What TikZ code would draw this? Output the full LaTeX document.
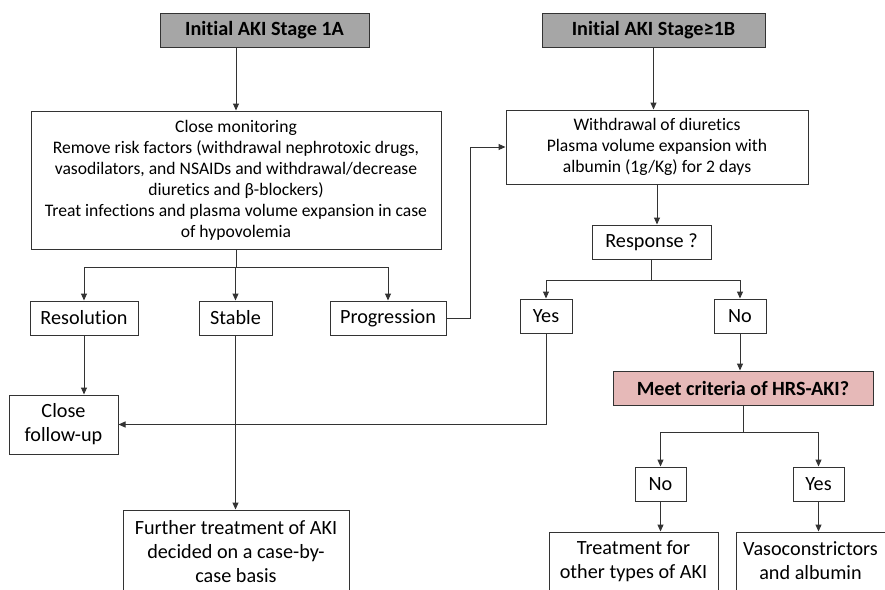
\documentclass[tikz,border=0pt]{standalone}
\usepackage{fontspec}
\setmainfont{Carlito}[Ligatures=NoCommon]
\usetikzlibrary{arrows.meta}
\definecolor{headgray}{RGB}{166,166,166}
\definecolor{hrspink}{RGB}{230,185,184}
\tikzset{
  box/.style={draw=black!80, line width=1pt, inner sep=1pt, align=center, font=\fontsize{20.2}{24}\selectfont},
  textbox/.style={box, font=\fontsize{17.6}{21}\selectfont},
  headbox/.style={box, fill=headgray, font=\fontsize{20.2}{24}\selectfont\bfseries},
  hrsbox/.style={box, fill=hrspink, font=\fontsize{20.2}{24}\selectfont\bfseries},
  farrow/.style={-{Triangle[length=7pt,width=6pt]}, line width=1pt, draw=black!80},
  fline/.style={line width=1pt, draw=black!80}
}

\begin{document}
\begin{tikzpicture}[x=1pt, y=-1pt]
    \useasboundingbox (0,0) rectangle (885,589);
    \node[headbox, minimum width=209, minimum height=34] (init1a) at (264.5,30) {Initial AKI Stage 1A};
    \node[headbox, minimum width=223, minimum height=34] (init1b) at (653.5,30) {Initial AKI Stage≥1B};
    \node[textbox, minimum width=410, minimum height=138] (monit) at (236,180) {Close monitoring\\Remove risk factors (withdrawal nephrotoxic drugs,\\vasodilators, and NSAIDs and withdrawal/decrease\\diuretics and β-blockers)\\Treat infections and plasma volume expansion in case\\of hypovolemia};
    \node[textbox, minimum width=302, minimum height=74] (withdr) at (657,147) {Withdrawal of diuretics\\Plasma volume expansion with\\albumin (1g/Kg) for 2 days};
    \node[box, minimum width=119, minimum height=34] (resp) at (651.5,242) {Response ?};
    \node[box, minimum width=108, minimum height=34] (resol) at (84,318) {Resolution};
    \node[box, minimum width=73, minimum height=34] (stable) at (235.5,318) {Stable};
    \node[box, minimum width=116, minimum height=34] (progr) at (388,318) {Progression};
    \node[box, minimum width=52, minimum height=34] (yes1) at (546,316) {Yes};
    \node[box, minimum width=52, minimum height=34] (no1) at (740,316) {No};
    \node[box, minimum width=109, minimum height=59] (follow) at (63.5,424.5) {Close\\follow-up};
    \node[box, minimum width=226, minimum height=84] (further) at (236,552) {Further treatment of AKI\\decided on a case-by-\\case basis};
    \node[hrsbox, minimum width=260, minimum height=34] (hrs) at (743,388) {Meet criteria of HRS-AKI?};
    \node[box, minimum width=51, minimum height=34] (no2) at (660.5,484) {No};
    \node[box, minimum width=51, minimum height=34] (yes2) at (818.5,484) {Yes};
    \node[box, minimum width=169, minimum height=58] (treat) at (633.5,561) {Treatment for\\other types of AKI};
    \node[box, minimum width=149, minimum height=58] (vaso) at (810.5,561) {Vasoconstrictors\\and albumin};
    \draw[farrow] (init1a.south -| monit.north) -- (monit.north);
    \draw[farrow] (init1b.south) -- (init1b.south |- withdr.north);
    \draw[fline] (monit.south) -- ++(0,18) coordinate (split1);
    \draw[farrow] (split1) -| (resol.north);
    \draw[farrow] (split1) -| (stable.north);
    \draw[farrow] (split1) -| (progr.north);
    \draw[farrow] (progr.east) -- ++(24,0) |- (withdr.west);
    \draw[farrow] (withdr.south) -- (withdr.south |- resp.north);
    \draw[fline] (resp.south) -- ++(0,21) coordinate (split2);
    \draw[farrow] (split2) -| (yes1.north);
    \draw[farrow] (split2) -| (no1.north);
    \draw[farrow] (resol.south) -- (resol.south |- follow.north);
    \draw[farrow] (stable.south) -- (stable.south |- further.north);
    \draw[farrow] (yes1.south) |- (follow.east);
    \draw[farrow] (no1.south) -- (no1.south |- hrs.north);
    \draw[fline] (hrs.south) -- ++(0,27) coordinate (split3);
    \draw[farrow] (split3) -| (no2.north);
    \draw[farrow] (split3) -| (yes2.north);
    \draw[farrow] (no2.south) -- (no2.south |- treat.north);
    \draw[farrow] (yes2.south) -- (yes2.south |- vaso.north);
  \end{tikzpicture}
\end{document}
